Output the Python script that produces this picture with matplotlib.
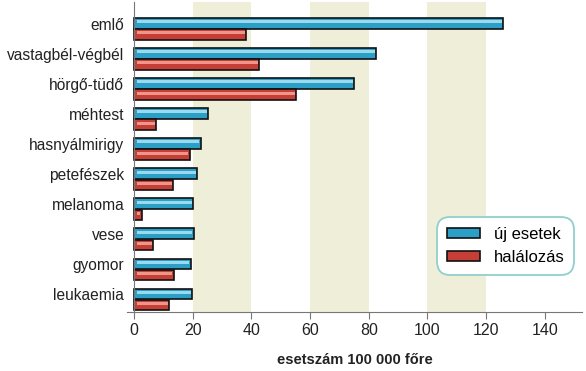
import matplotlib.pyplot as plt
from matplotlib.patches import Rectangle

# cancer sites, top to bottom
sites = ["emlő", "vastagbél-végbél", "hörgő-tüdő", "méhtest", "hasnyálmirigy",
         "petefészek", "melanoma", "vese", "gyomor", "leukaemia"]
# incidence per 100 000
new_cases = [125.8, 82.5, 75.0, 25.2, 22.7, 21.5, 20.2, 20.4, 19.3, 19.8]
# deaths per 100 000
deaths = [38.2, 42.6, 55.2, 7.5, 19.0, 13.4, 2.7, 6.5, 13.6, 12.0]
bands = [(20, 40), (60, 80), (100, 120)]
xticks = [0, 20, 40, 60, 80, 100, 120, 140]

plt.rcParams['font.family'] = ['Liberation Sans', 'DejaVu Sans']

fig = plt.figure(figsize=(5.86, 3.71), dpi=100)
ax = fig.add_axes([127 / 586, 1 - 312 / 371, (582 - 127) / 586, (312 - 2) / 371])

for a, b in bands:
    ax.axvspan(a, b, color="#efefd9", zorder=0, lw=0)

pos = list(range(len(sites)))
h = 0.36
off = 0.37
death_pos = [p + off for p in pos]

blue, blue_hi = "#2c9fc6", "#9ad9ee"
red, red_hi = "#c63f36", "#f0958a"

ax.barh(pos, new_cases, height=h, color=blue, edgecolor="#111111", lw=1.2, zorder=2)
ax.barh([p - 0.06 for p in pos], [v - 1.5 for v in new_cases], left=1.0, height=0.1,
        color=blue_hi, lw=0, zorder=3)
ax.barh(death_pos, deaths, height=h, color=red, edgecolor="#111111", lw=1.2, zorder=2)
ax.barh([p - 0.06 for p in death_pos], [max(v - 1.5, 0.3) for v in deaths], left=1.0,
        height=0.1, color=red_hi, lw=0, zorder=3)

ax.set_ylim(9.6, -0.72)
ax.set_xlim(-2.4, 152.7)
ax.set_yticks(pos)
ax.set_yticklabels(sites)
ax.tick_params(axis="y", length=0, pad=7, labelsize=11.2, labelcolor="#222222")
ax.set_xticks(xticks)
ax.tick_params(axis="x", labelsize=11.5, labelcolor="#222222", length=5, color="#777777", pad=3)
ax.set_xlabel("esetszám 100 000 főre", fontsize=10.5, fontweight="bold", color="#222222",
              labelpad=11)

for s in ["top", "right"]:
    ax.spines[s].set_visible(False)
ax.spines["bottom"].set_color("#777777")
ax.spines["left"].set_color("#777777")
ax.spines["left"].set_position(("data", 0))

handles = [Rectangle((0, 0), 1, 1, facecolor=blue, edgecolor="#111111", lw=1.2),
           Rectangle((0, 0), 1, 1, facecolor=red, edgecolor="#111111", lw=1.2)]
leg = fig.legend(handles, ["új esetek", "halálozás"], loc="upper left",
                 bbox_to_anchor=(437 / 586, 1 - 217 / 371), fontsize=12,
                 fancybox=True, framealpha=1, edgecolor="#8fd0cc",
                 handlelength=2.0, handleheight=0.55, borderpad=0.6, labelspacing=0.45,
                 handletextpad=0.8, borderaxespad=0)
leg.get_frame().set_linewidth(1.3)
leg.get_frame().set_boxstyle("round", pad=0, rounding_size=0.8)

fig.savefig("out.png", dpi=100)
